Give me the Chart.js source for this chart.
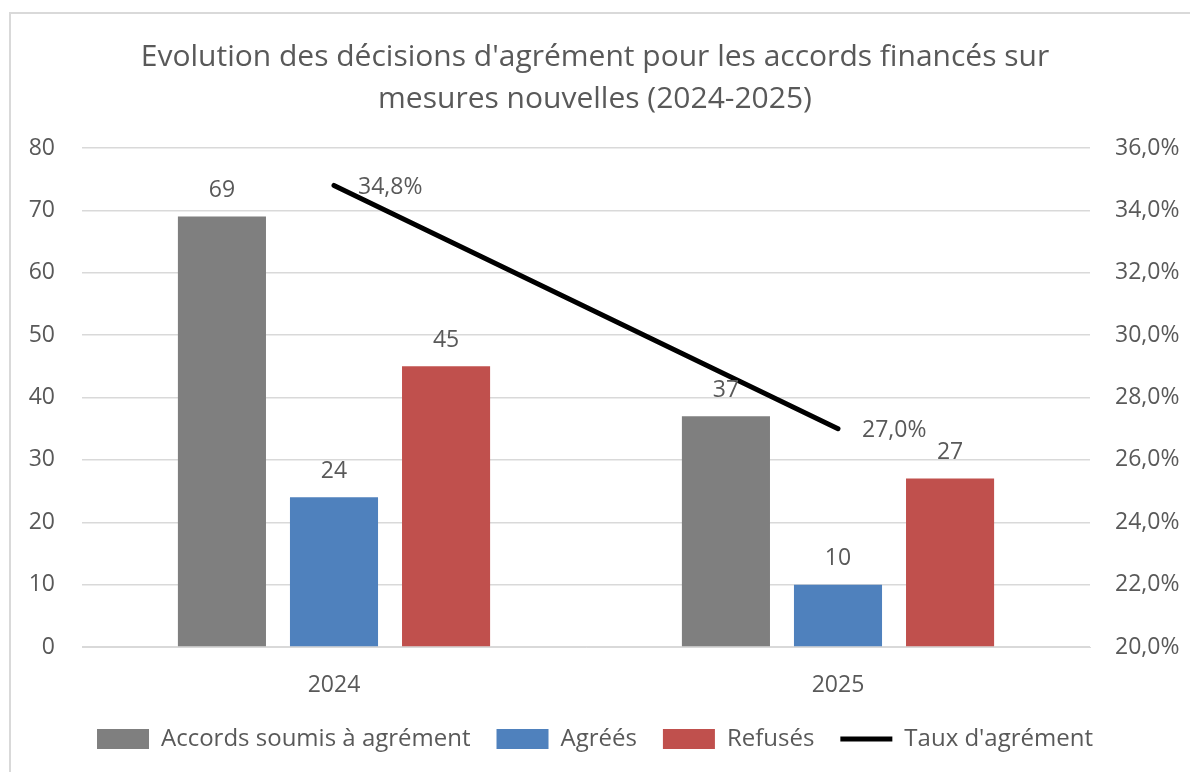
<!DOCTYPE html>
<html>
<head>
<meta charset="utf-8">
<script src="https://cdn.jsdelivr.net/npm/chart.js@4"></script>
<style>
    body { margin: 0; background: #fff; }
    #wrap { position: relative; width: 1190px; height: 772px; overflow: hidden; }
    #frame { position: absolute; left: 9px; top: 12px; width: 1300px; height: 900px;
             border-top: 2px solid #d9d9d9; border-left: 2px solid #d9d9d9; }
    canvas { position: absolute; left: 0; top: 0; }
</style>
</head>
<body>
<div id="wrap">
    <div id="frame"></div>
    <canvas id="myChart" width="1190" height="772"></canvas>
</div>
<script>
// values
const years = ['2024', '2025'];
const soumis = [69, 37];
const agrees = [24, 10];
const refuses = [45, 27];
const taux = [34.8, 27.0];

const textColor = '#595959';
const fontFamily = "'Open Sans', sans-serif";

function frPercent(v) {
    return v.toFixed(1).replace('.', ',') + '%';
}

// small plugin to write the values on the bars and the line
const valueLabels = {
    id: 'valueLabels',
    afterDatasetsDraw(chart) {
        const ctx = chart.ctx;
        ctx.save();
        ctx.fillStyle = textColor;
        ctx.font = '23px ' + fontFamily;
        ctx.textBaseline = 'middle';
        chart.data.datasets.forEach((ds, i) => {
            const meta = chart.getDatasetMeta(i);
            meta.data.forEach((el, j) => {
                if (ds.type === 'line') {
                    ctx.textAlign = 'left';
                    ctx.fillText(frPercent(ds.data[j]), el.x + 24, el.y + 2);
                } else {
                    ctx.textAlign = 'center';
                    ctx.fillText(ds.data[j], el.x, el.y - 26);
                }
            });
        });
        ctx.restore();
    }
};

const ctx = document.getElementById('myChart').getContext('2d');
const myChart = new Chart(ctx, {
    data: {
        labels: years,
        datasets: [
            {
                type: 'line',
                label: "Taux d'agrément",
                data: taux,
                yAxisID: 'y2',
                borderColor: '#000000',
                backgroundColor: '#000000',
                borderWidth: 5,
                pointRadius: 0,
                borderCapStyle: 'round',
                pointStyle: 'line',
                order: 0
            },
            {
                type: 'bar',
                label: 'Accords soumis à agrément',
                data: soumis,
                backgroundColor: '#7f7f7f',
                pointStyle: 'rect',
                order: 1
            },
            {
                type: 'bar',
                label: 'Agréés',
                data: agrees,
                backgroundColor: '#4f81bd',
                pointStyle: 'rect',
                order: 1
            },
            {
                type: 'bar',
                label: 'Refusés',
                data: refuses,
                backgroundColor: '#c0504d',
                pointStyle: 'rect',
                order: 1
            }
        ]
    },
    options: {
        responsive: false,
        animation: false,
        datasets: {
            bar: { categoryPercentage: 0.667, barPercentage: 0.786 }
        },
        layout: { padding: { bottom: 11 } },
        plugins: {
            title: {
                display: true,
                text: ["Evolution des décisions d'agrément pour les accords financés sur", 'mesures nouvelles (2024-2025)'],
                color: textColor,
                font: { family: fontFamily, size: 30, weight: 'normal', lineHeight: 1.4 },
                padding: { top: 36, bottom: 28 }
            },
            legend: {
                position: 'bottom',
                labels: {
                    color: textColor,
                    font: { family: fontFamily, size: 24 },
                    usePointStyle: true,
                    pointStyleWidth: 52,
                    boxHeight: 20,
                    padding: 26,
                    sort: (a, b) => {
                        const order = [1, 2, 3, 0];
                        return order.indexOf(a.datasetIndex) - order.indexOf(b.datasetIndex);
                    }
                }
            },
            tooltip: { enabled: false }
        },
        scales: {
            x: {
                grid: { display: false, drawTicks: false },
                border: { display: true, color: '#d9d9d9', width: 1 },
                ticks: { color: textColor, font: { family: fontFamily, size: 23 }, padding: 25 },
                afterFit: (scale) => { scale.height = 54; }
            },
            y: {
                position: 'left',
                min: 0,
                max: 80,
                ticks: { stepSize: 10, color: textColor, font: { family: fontFamily, size: 23 }, padding: 27 },
                grid: { color: '#d9d9d9', lineWidth: 1.5, drawTicks: false },
                border: { display: false },
                afterFit: (scale) => { scale.width = 82; }
            },
            y2: {
                position: 'right',
                min: 20,
                max: 36,
                ticks: {
                    stepSize: 2,
                    color: textColor,
                    font: { family: fontFamily, size: 23 },
                    padding: 25,
                    callback: (value) => frPercent(value)
                },
                grid: { display: false, drawTicks: false },
                border: { display: false },
                afterFit: (scale) => { scale.width = 100; }
            }
        }
    },
    plugins: [valueLabels]
});
</script>
</body>
</html>
